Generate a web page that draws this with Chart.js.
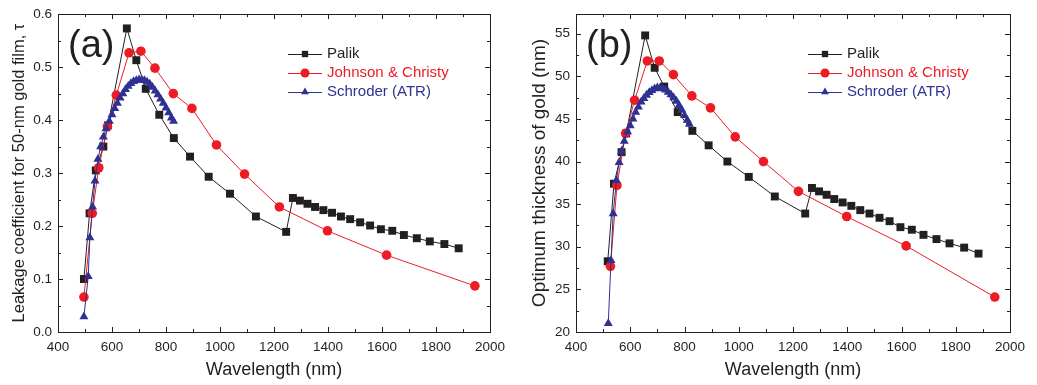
<!DOCTYPE html>
<html>
<head>
<meta charset="utf-8">
<script src="https://cdn.jsdelivr.net/npm/chart.js@4"></script>
<style>
  html, body { margin: 0; padding: 0; background: #fff; }
  #wrap { position: relative; width: 1037px; height: 385px; }
  .panel { position: absolute; top: 0; height: 385px; }
  #pa { left: 0; width: 518px; }
  #pb { left: 518px; width: 519px; }
</style>
</head>
<body>
<div id="wrap">
  <div class="panel" id="pa"><canvas id="chartA"></canvas></div>
  <div class="panel" id="pb"><canvas id="chartB"></canvas></div>
</div>
<script>
// Palik
const palikWl = [496, 517, 540, 568, 585, 655, 690, 725, 775, 829, 889, 958, 1037, 1133, 1245,
  1270, 1296, 1324, 1352, 1383, 1415, 1448, 1482, 1519, 1556, 1596, 1638, 1681, 1729, 1777, 1831, 1884];
const palikLeak = [0.100, 0.224, 0.305, 0.350, 0.390, 0.573, 0.513, 0.459, 0.410, 0.366, 0.331, 0.293, 0.261, 0.218, 0.189,
  0.253, 0.248, 0.242, 0.236, 0.230, 0.225, 0.218, 0.213, 0.207, 0.201, 0.194, 0.191, 0.183, 0.177, 0.171, 0.166, 0.158];
const palikThick = [null, 28.3, 37.4, 41.1, 43.3, 54.8, 51.0, 48.8, 45.8, 43.6, 41.9, 40.0, 38.2, 35.9, 33.9,
  36.9, 36.5, 36.1, 35.6, 35.2, 34.8, 34.3, 33.9, 33.4, 33.0, 32.3, 32.0, 31.4, 30.9, 30.4, 29.9, 29.2];

// Johnson & Christy
const jcWl = [496, 527, 551, 583, 616, 663, 707, 759, 827, 896, 987, 1091, 1220, 1398, 1617, 1944];
const jcLeak = [0.066, 0.224, 0.310, 0.388, 0.447, 0.527, 0.530, 0.498, 0.450, 0.422, 0.353, 0.298, 0.236, 0.191, 0.145, 0.087];
const jcThick = [null, 27.7, 37.2, 43.3, 47.2, 51.8, 51.8, 50.2, 47.7, 46.3, 42.9, 40.0, 36.5, 33.55, 30.1, 24.1];

// Schroder (ATR)
const atrWlA = [496, 512, 518, 528, 537, 548, 558, 568, 578, 590, 600, 610, 620, 630, 640, 650, 660, 670,
  680, 690, 700, 710, 720, 730, 740, 750, 760, 770, 780, 790, 800, 810, 820, 828];
const atrLeak = [0.029, 0.105, 0.178, 0.236, 0.285, 0.326, 0.350, 0.368, 0.384, 0.398, 0.410, 0.422, 0.432, 0.442,
  0.450, 0.458, 0.464, 0.469, 0.473, 0.475, 0.476, 0.476, 0.475, 0.472, 0.468, 0.462, 0.455, 0.448, 0.440,
  0.432, 0.423, 0.414, 0.404, 0.398];
const atrWlB = [519, 529, 537, 549, 559, 568, 578, 590, 600, 610, 620, 630, 640, 650, 660, 670, 680, 690,
  700, 710, 720, 730, 740, 750, 760, 770, 780, 790, 800, 810, 818];
const atrThick = [21.0, 28.4, 33.9, 37.8, 39.9, 41.2, 42.4, 43.5, 44.2, 45.0, 45.8, 46.4, 47.0, 47.4, 47.8, 48.1,
  48.35, 48.55, 48.65, 48.65, 48.55, 48.4, 48.15, 47.85, 47.5, 47.1, 46.6, 46.05, 45.4, 44.85, 44.4];

const BLACK = '#231f20', RED = '#ed1c24', BLUE = '#2e3192';
const FONT = "'Liberation Sans', Arial, sans-serif";

function pts(xs, ys) {
  return xs.map((x, i) => ({ x, y: ys[i] })).filter(p => p.y !== null);
}

function series(pal, jc, atr) {
  return [
    { label: 'Palik', data: pal, borderColor: BLACK, backgroundColor: BLACK,
      pointStyle: 'rect', pointRadius: 5.6, order: 3 },
    { label: 'Johnson & Christy', data: jc, borderColor: RED, backgroundColor: RED,
      pointStyle: 'circle', pointRadius: 4.8, order: 2 },
    { label: 'Schroder (ATR)', data: atr, borderColor: BLUE, backgroundColor: BLUE,
      pointStyle: 'triangle', pointRadius: 5.2, order: 1 },
  ].map(d => Object.assign(d, { showLine: true, borderWidth: 1, pointBorderWidth: 0, clip: false }));
}

// box, inward ticks, panel letter and legend
const decor = {
  id: 'decor',
  afterDraw(chart, args, o) {
    const { ctx, chartArea: a, scales: { x, y } } = chart;
    ctx.save();
    ctx.strokeStyle = BLACK;
    ctx.lineWidth = 1;
    ctx.strokeRect(Math.round(a.left) + 0.5, Math.round(a.top) + 0.5,
      Math.round(a.right - a.left), Math.round(a.bottom - a.top));
    ctx.beginPath();
    for (let i = 0; x.min + i * o.xMinor <= x.max + 1e-9; i++) {
      const px = Math.round(x.getPixelForValue(x.min + i * o.xMinor)) + 0.5;
      const len = i % 2 === 0 ? 5 : 3;
      ctx.moveTo(px, a.bottom); ctx.lineTo(px, a.bottom - len);
      ctx.moveTo(px, a.top); ctx.lineTo(px, a.top + len);
    }
    for (let i = 0; y.min + i * o.yMinor <= y.max + 1e-9; i++) {
      const py = Math.round(y.getPixelForValue(y.min + i * o.yMinor)) + 0.5;
      const len = i % 2 === 0 ? 5 : 3;
      ctx.moveTo(a.left, py); ctx.lineTo(a.left + len, py);
      ctx.moveTo(a.right, py); ctx.lineTo(a.right - len, py);
    }
    ctx.stroke();

    ctx.fillStyle = BLACK;
    ctx.font = '38px ' + FONT;
    ctx.textBaseline = 'alphabetic';
    ctx.fillText(o.letter, a.left + 10, 57);

    ctx.font = '15px ' + FONT;
    ctx.textBaseline = 'middle';
    const rows = [54, 73, 92];
    chart.data.datasets.forEach((d, i) => {
      const yy = rows[i];
      const x0 = a.right - 202, x1 = a.right - 168;
      ctx.strokeStyle = d.borderColor;
      ctx.fillStyle = d.backgroundColor;
      ctx.beginPath(); ctx.moveTo(x0, yy + 0.5); ctx.lineTo(x1, yy + 0.5); ctx.stroke();
      Chart.helpers.drawPoint(ctx, { pointStyle: d.pointStyle, radius: 4.5, rotation: 0, borderWidth: 0 }, (x0 + x1) / 2, yy);
      ctx.fillStyle = i === 0 ? BLACK : d.borderColor;
      ctx.fillText(d.label, a.right - 163, yy);
    });
    ctx.restore();
  }
};

function makeChart(id, datasets, yOpts, yTitle, yTitleSize, letter, yMinor, padRight) {
  return new Chart(document.getElementById(id), {
    type: 'scatter',
    data: { datasets },
    plugins: [decor],
    options: {
      responsive: true, maintainAspectRatio: false, animation: false, devicePixelRatio: 1,
      layout: { padding: { top: 12, right: padRight, left: 0, bottom: 0 } },
      plugins: {
        legend: { display: false }, tooltip: { enabled: false },
        decor: { letter, xMinor: 100, yMinor },
      },
      scales: {
        x: {
          type: 'linear', min: 400, max: 2000,
          ticks: { stepSize: 200, color: BLACK, padding: 7, font: { family: FONT, size: 13.5 },
            callback: v => String(v) },
          grid: { display: false, drawTicks: false }, border: { display: false },
          title: { display: true, text: 'Wavelength (nm)', color: BLACK,
            font: { family: FONT, size: 18 }, padding: { top: 0, bottom: 4 } },
          afterFit: s => { s.height = 53; },
        },
        y: Object.assign({
          type: 'linear',
          grid: { display: false, drawTicks: false }, border: { display: false },
          title: { display: true, text: yTitle, color: BLACK,
            font: { family: FONT, size: yTitleSize }, padding: { top: 10, bottom: 0 } },
          afterFit: s => { s.width = 58; },
        }, yOpts),
      },
    },
  });
}

makeChart('chartA',
  series(pts(palikWl, palikLeak), pts(jcWl, jcLeak), pts(atrWlA, atrLeak)),
  { min: 0, max: 0.6,
    ticks: { stepSize: 0.1, color: BLACK, padding: 6, font: { family: FONT, size: 13.5 },
      callback: v => v.toFixed(1) } },
  'Leakage coefficient for 50-nm gold film, \u03c4', 16.5, '(a)', 0.05, 28);

makeChart('chartB',
  series(pts(palikWl, palikThick), pts(jcWl, jcThick), pts(atrWlB, atrThick)),
  { min: 20, max: 57.3,
    ticks: { stepSize: 5, includeBounds: false, color: BLACK, padding: 6, font: { family: FONT, size: 13.5 },
      callback: v => String(v) } },
  'Optimum thickness of gold (nm)', 19, '(b)', 2.5, 27);
</script>
</body>
</html>
